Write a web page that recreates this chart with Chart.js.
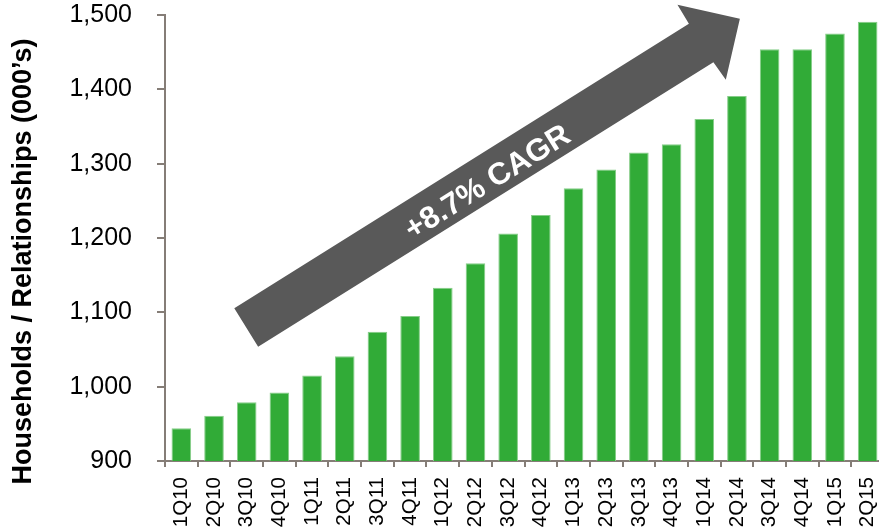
<!DOCTYPE html>
<html>
<head>
<meta charset="utf-8">
<script src="https://cdn.jsdelivr.net/npm/chart.js@4/dist/chart.umd.min.js"></script>
<style>
  html, body { margin: 0; padding: 0; background: #fff; overflow: hidden; width: 879px; height: 531px; }
  canvas { display: block; }
</style>
</head>
<body>
<canvas id="c" width="884" height="531"></canvas>
<script>
const categories = ['1Q10','2Q10','3Q10','4Q10','1Q11','2Q11','3Q11','4Q11','1Q12','2Q12','3Q12','4Q12',
                    '1Q13','2Q13','3Q13','4Q13','1Q14','2Q14','3Q14','4Q14','1Q15','2Q15'];
const households = [944, 961, 979, 992, 1015, 1041, 1074, 1095, 1133, 1166, 1206, 1231,
                    1267, 1292, 1315, 1326, 1360, 1391, 1454, 1454, 1475, 1491];
const yTicks = [900, 1000, 1100, 1200, 1300, 1400, 1500];
const yTitle = 'Households / Relationships (000\u2019s)';
const arrowLabel = '+8.7% CAGR';
// arrow outline in (category index, value) space
const arrowIdx = [1.62, 15.53, 15.18, 17.09, 16.66, 16.28, 2.35];
const arrowVal = [1105.5, 1488.2, 1513.7, 1494.9, 1412.8, 1436.6, 1053.8];
const labelIdx = 9.38, labelVal = 1274;

const FONT = "'Liberation Sans', Arial, sans-serif";
const AXIS = '#857d77';

const arrowPlugin = {
  id: 'cagrArrow',
  afterDatasetsDraw(chart) {
    const xs = chart.scales.x, ys = chart.scales.y, ctx = chart.ctx;
    const x0 = xs.getPixelForValue(0), step = xs.getPixelForValue(1) - x0;
    const px = i => x0 + i * step;
    ctx.save();
    ctx.beginPath();
    arrowIdx.forEach((v, k) => {
      const X = px(v), Y = ys.getPixelForValue(arrowVal[k]);
      if (k === 0) ctx.moveTo(X, Y); else ctx.lineTo(X, Y);
    });
    ctx.closePath();
    ctx.fillStyle = '#595959';
    ctx.fill();
    const ax = (px(arrowIdx[0]) + px(arrowIdx[6])) / 2, ay = (ys.getPixelForValue(arrowVal[0]) + ys.getPixelForValue(arrowVal[6])) / 2;
    const bx = (px(arrowIdx[1]) + px(arrowIdx[5])) / 2, by = (ys.getPixelForValue(arrowVal[1]) + ys.getPixelForValue(arrowVal[5])) / 2;
    const ang = Math.atan2(by - ay, bx - ax);
    ctx.translate(px(labelIdx), ys.getPixelForValue(labelVal));
    ctx.rotate(ang);
    ctx.fillStyle = '#ffffff';
    ctx.font = 'bold 31px ' + FONT;
    ctx.textAlign = 'center';
    ctx.textBaseline = 'middle';
    ctx.fillText(arrowLabel, 0, 0);
    ctx.restore();
  }
};

const yTitlePlugin = {
  id: 'yTitle',
  afterDraw(chart) {
    const ctx = chart.ctx;
    ctx.save();
    ctx.translate(24, chart.height / 2 - 4);
    ctx.rotate(-Math.PI / 2);
    ctx.fillStyle = '#000';
    ctx.font = 'bold 27px ' + FONT;
    ctx.textAlign = 'center';
    ctx.textBaseline = 'middle';
    ctx.fillText(yTitle, 0, 0);
    ctx.restore();
  }
};

new Chart(document.getElementById('c'), {
  type: 'bar',
  data: {
    labels: categories,
    datasets: [{
      data: households,
      backgroundColor: '#31ab37',
      borderColor: '#86cd88',
      borderWidth: 1,
      categoryPercentage: 1.0,
      barPercentage: 0.6
    }]
  },
  options: {
    responsive: false,
    animation: false,
    devicePixelRatio: 1,
    layout: { padding: { left: 0, right: 0, top: 15, bottom: 0 } },
    plugins: { legend: { display: false }, tooltip: { enabled: false } },
    scales: {
      x: {
        grid: { display: true, drawOnChartArea: false, drawTicks: true, tickLength: 6, color: AXIS, lineWidth: 2 },
        border: { display: true, color: AXIS, width: 2 },
        ticks: {
          color: '#000', font: { family: FONT, size: 20.5 }, padding: 10,
          maxRotation: 90, minRotation: 90, autoSkip: false
        },
        afterFit: s => { s.height = 70; s.paddingLeft = 0; s.paddingRight = 0; }
      },
      y: {
        min: 900, max: 1500,
        afterBuildTicks: s => { s.ticks = yTicks.map(v => ({ value: v })); },
        grid: { display: true, drawOnChartArea: false, drawTicks: true, tickLength: 8, color: AXIS, lineWidth: 2 },
        border: { display: true, color: AXIS, width: 2 },
        ticks: {
          color: '#000', font: { family: FONT, size: 25 }, padding: 25,
          callback: v => v.toLocaleString('en-US')
        },
        title: { display: false },
        afterFit: s => { s.width = 165; s.paddingTop = 0; s.paddingBottom = 0; }
      }
    }
  },
  plugins: [arrowPlugin, yTitlePlugin]
});
</script>
</body>
</html>
